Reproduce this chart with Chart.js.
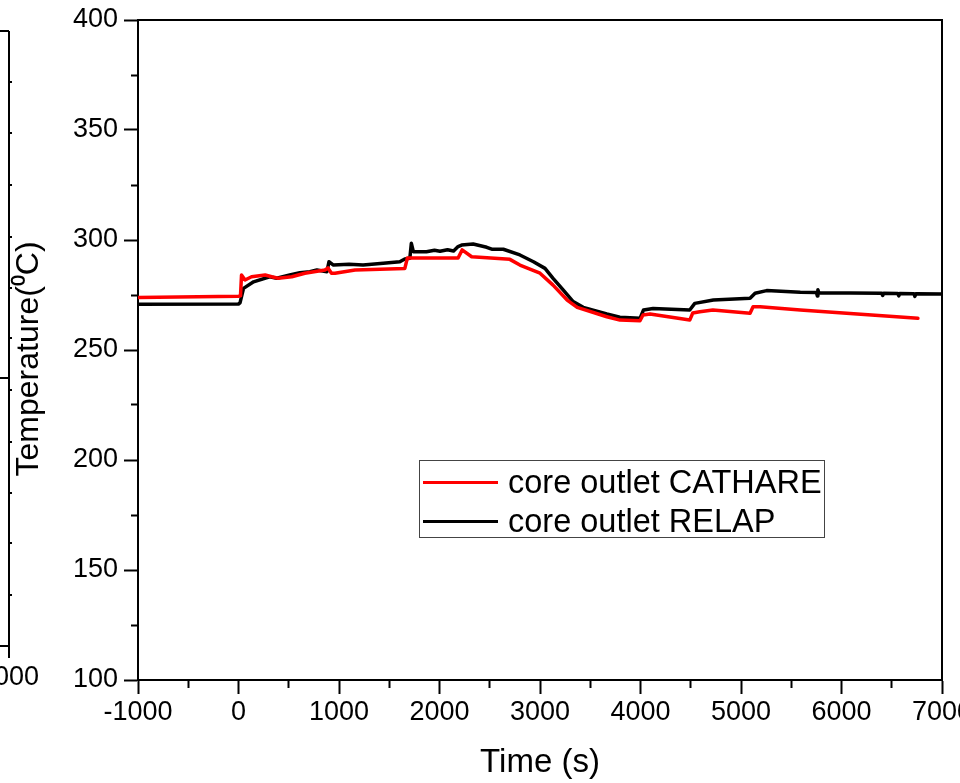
<!DOCTYPE html>
<html>
<head>
<meta charset="utf-8">
<script src="https://cdn.jsdelivr.net/npm/chart.js@4.4.1/dist/chart.umd.min.js"></script>
<style>
    body { margin: 0; background: #fff; }
    #wrap { position: relative; width: 960px; height: 783px; overflow: hidden; }
    #legend {
        position: absolute; left: 419px; top: 460px; width: 404px; height: 76px;
        border: 1.5px solid #444; background: #fff;
        font-family: "Liberation Sans", Arial, sans-serif; font-size: 32.5px; color: #000;
    }
    .fila { position: absolute; left: 0; height: 39px; display: flex; align-items: center; white-space: nowrap; }
    .linea { width: 75px; height: 3px; margin-left: 3px; margin-right: 10px; }
</style>
</head>
<body>
<div id="wrap">
    <canvas id="grafico" width="960" height="783"></canvas>
    <div id="legend"></div>
</div>
<script>
// Nombres de las series
const nombres = ['core outlet CATHARE', 'core outlet RELAP'];
const colores = ['#ff0000', '#000000'];

// CATHARE: tiempo (s) y temperatura (C)
const tiempoCathare = [-1000, 0, 20, 30, 65, 130, 265, 330, 395, 530, 660, 860, 890, 925, 960, 1160,
    1655, 1680, 2185, 2225, 2320, 2700, 2800, 3000, 3130, 3270, 3370, 3665, 3795, 3995, 4025, 4095,
    4490, 4520, 4590, 4720, 5090, 5120, 5190, 5590, 6760];
const tempCathare = [273.9, 274.4, 274.6, 284.1, 281.8, 283.3, 284.1, 283.3, 282.6, 283.3, 284.9, 286.4,
    287.3, 284.9, 284.9, 286.4, 287.1, 291.8, 291.8, 295.5, 292.4, 291.2, 288.6, 284.9, 279.5, 272.7,
    269.4, 265.1, 263.6, 263.3, 265.9, 266.4, 263.6, 266.8, 267.4, 268.2, 266.7, 269.7, 269.7, 268.2, 264.4];

// RELAP: tiempo (s) y temperatura (C)
const tiempoRelap = [-1000, 0, 15, 50, 150, 310, 380, 510, 610, 710, 780, 880, 900, 945, 1100, 1240,
    1440, 1605, 1655, 1705, 1720, 1740, 1870, 1950, 2005, 2080, 2140, 2185, 2220, 2335, 2470, 2520,
    2635, 2800, 2935, 3050, 3130, 3230, 3330, 3430, 3665, 3795, 3995, 4030, 4125, 4490, 4540, 4725,
    5090, 5140, 5255, 5590, 5750, 5760, 5765, 5775, 6400, 6410, 6420, 6560, 6570, 6580, 6720, 6730,
    6740, 7000];
const tempRelap = [270.8, 270.9, 271.4, 278.0, 281.0, 283.3, 282.6, 284.1, 285.1, 285.6, 286.4, 285.6,
    290.1, 288.6, 289.0, 288.6, 289.4, 290.1, 291.4, 291.7, 298.5, 294.7, 294.7, 295.3, 294.9, 295.6,
    295.0, 297.0, 297.7, 298.2, 296.7, 295.8, 295.8, 293.2, 290.1, 287.1, 282.6, 277.3, 272.0, 269.4,
    266.4, 264.9, 264.4, 268.2, 268.9, 268.2, 271.2, 272.7, 273.5, 275.8, 277.0, 276.2, 276.1, 274.6,
    277.4, 276.0, 275.8, 274.8, 275.8, 275.7, 274.6, 275.7, 275.6, 274.4, 275.6, 275.5];

// Ejes
const ejeX = { min: -1000, max: 7000, paso: 500, etiqueta: 1000 };
const ejeY = { min: 100, max: 400, paso: 25, etiqueta: 50 };

function puntos(ts, vs) {
    return ts.map((t, i) => ({ x: t, y: vs[i] }));
}

const fuente = '"Liberation Sans", Arial, sans-serif';

// Restos del gráfico vecino recortado a la izquierda
const restoVecino = {
    id: 'restoVecino',
    beforeDraw(chart) {
        const c = chart.ctx;
        c.save();
        c.strokeStyle = '#000';
        c.lineWidth = 2;
        c.beginPath();
        c.moveTo(9, 31); c.lineTo(9, 658);
        [31, 378, 646].forEach(y => { c.moveTo(0, y); c.lineTo(9, y); });
        [82, 133, 185, 237, 288, 338, 390, 442, 493, 543, 595].forEach(y => { c.moveTo(9, y); c.lineTo(12, y); });
        c.stroke();
        c.fillStyle = '#000';
        c.font = '27px ' + fuente;
        c.textAlign = 'center';
        c.textBaseline = 'middle';
        c.fillText('7000', 9, 678);
        c.restore();
    }
};

const ejeBase = {
    type: 'linear',
    grid: {
        display: true, drawOnChartArea: false, drawTicks: true,
        tickLength: 14, tickWidth: 2, tickColor: '#000'
    },
    border: { display: true, color: '#000', width: 2 }
};

const ejeMarco = (pos, lim) => ({
    type: 'linear', position: pos, min: lim.min, max: lim.max,
    grid: { display: false },
    ticks: { display: false },
    border: { display: true, color: '#000', width: 2 },
    afterFit(s) {
        if (s.isHorizontal()) s.height = 0; else s.width = 0;
        s.paddingLeft = 0; s.paddingRight = 0; s.paddingTop = 0; s.paddingBottom = 0;
    }
});

const estiloLinea = { borderWidth: 3.5, pointRadius: 0, tension: 0, fill: false, borderJoinStyle: 'round', borderCapStyle: 'round' };

new Chart(document.getElementById('grafico'), {
    type: 'line',
    data: {
        datasets: [
            { label: nombres[0], data: puntos(tiempoCathare, tempCathare), borderColor: colores[0], ...estiloLinea },
            { label: nombres[1], data: puntos(tiempoRelap, tempRelap), borderColor: colores[1], ...estiloLinea }
        ]
    },
    options: {
        responsive: false,
        animation: false,
        layout: { padding: { left: 0, right: 18, top: 20, bottom: 0 } },
        plugins: { legend: { display: false }, tooltip: { enabled: false } },
        scales: {
            x: {
                ...ejeBase,
                position: 'bottom',
                min: ejeX.min, max: ejeX.max,
                grid: {
                    ...ejeBase.grid,
                    tickBorderDash: ctx => (ctx.tick && ctx.tick.value % ejeX.etiqueta !== 0) ? [7, 20] : []
                },
                ticks: {
                    stepSize: ejeX.paso, autoSkip: false, maxRotation: 0, padding: 2,
                    color: '#000', font: { family: fuente, size: 27 },
                    callback: v => (v % ejeX.etiqueta === 0 ? String(v) : '')
                },
                title: {
                    display: true, text: 'Time (s)', color: '#000',
                    font: { family: fuente, size: 33 }, padding: { top: 0, bottom: 0 }
                },
                afterFit(s) { s.height = 103; s.paddingLeft = 0; s.paddingRight = 0; }
            },
            y: {
                ...ejeBase,
                position: 'left',
                min: ejeY.min, max: ejeY.max,
                grid: {
                    ...ejeBase.grid,
                    tickBorderDash: ctx => (ctx.tick && ctx.tick.value % ejeY.etiqueta !== 0) ? [0, 7, 20] : []
                },
                ticks: {
                    stepSize: ejeY.paso, autoSkip: false, padding: 6,
                    color: '#000', font: { family: fuente, size: 27 },
                    callback: v => (v % ejeY.etiqueta === 0 ? String(v) : '')
                },
                title: {
                    display: true, text: 'Temperature(\u2070C)\u00a0\u00a0', color: '#000',
                    font: { family: fuente, size: 32 }, padding: { top: 10, bottom: 0 }
                },
                afterFit(s) { s.width = 138; s.paddingTop = 0; s.paddingBottom = 0; }
            },
            x2: ejeMarco('top', ejeX),
            y2: ejeMarco('right', ejeY)
        }
    },
    plugins: [restoVecino]
});

// Leyenda HTML dentro del área del gráfico
const leyenda = document.getElementById('legend');
nombres.forEach((nombre, i) => {
    const fila = document.createElement('div');
    fila.className = 'fila';
    fila.style.top = (2 + i * 39) + 'px';
    const linea = document.createElement('span');
    linea.className = 'linea';
    linea.style.background = colores[i];
    const texto = document.createElement('span');
    texto.textContent = nombre;
    fila.appendChild(linea);
    fila.appendChild(texto);
    leyenda.appendChild(fila);
});
</script>
</body>
</html>
